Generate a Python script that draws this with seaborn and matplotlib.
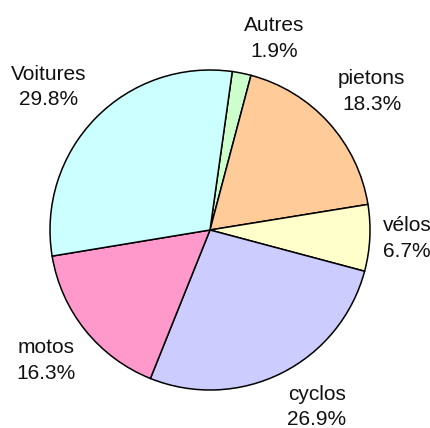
import numpy as np
import matplotlib
matplotlib.use("Agg")
import matplotlib.pyplot as plt
import seaborn as sns

# data (clockwise from the top)
categories = ['Autres', 'pietons', 'vélos', 'cyclos', 'motos', 'Voitures']
shares = [1.9, 18.3, 6.7, 26.9, 16.3, 29.8]
colors = ['#CCFFCC', '#FFCC99', '#FFFFCC', '#CCCCFF', '#FF99CC', '#CCFFFF']

sns.set_theme(style='white')
plt.rcParams['font.family'] = ['Liberation Sans', 'DejaVu Sans']

labels = [f'{c}\n{v:.1f}%' for c, v in zip(categories, shares)]

fig = plt.figure(figsize=(4.3, 4.28), dpi=100)
ax = fig.add_axes([0, 0, 1, 1])
wedges, texts = ax.pie(shares, labels=labels, colors=colors,
                       startangle=82, counterclock=False,
                       labeldistance=1.08,
                       wedgeprops=dict(edgecolor='black', linewidth=1.1),
                       textprops=dict(fontsize=15, color='#111111',
                                      multialignment='center', linespacing=1.45))

# anchor each label by the side of its box facing the pie
for w, t in zip(wedges, texts):
    ang = np.deg2rad((w.theta1 + w.theta2) / 2)
    s = np.sin(ang)
    if s > 0.3:
        t.set_va('bottom')
    elif s < -0.3:
        t.set_va('top')
    else:
        t.set_va('center')

# pie centre at (210, 230) px, radius 160 px
ax.set_xlim(-210 / 160, 220 / 160)
ax.set_ylim(-198 / 160, 230 / 160)
ax.axis('off')

fig.savefig('out.png', dpi=100)
